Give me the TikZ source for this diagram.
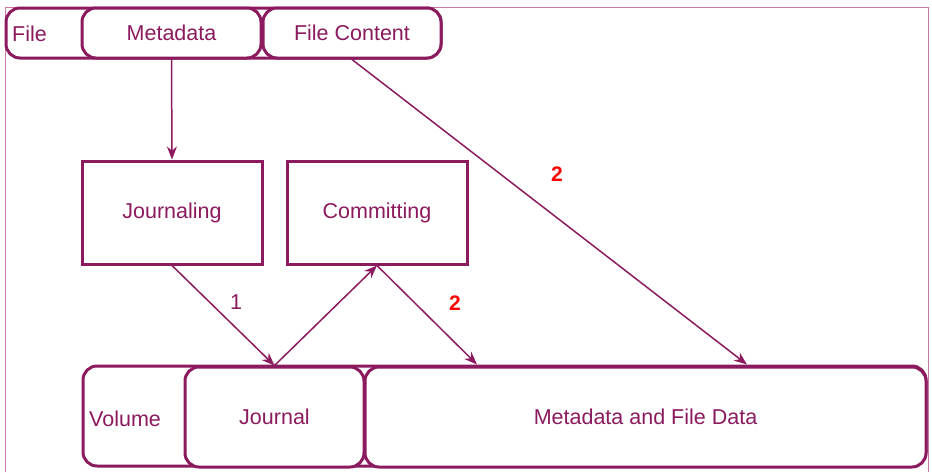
\documentclass[tikz,border=0pt]{standalone}
\usepackage{fontspec}
\setmainfont{Liberation Sans}
\usetikzlibrary{arrows.meta,positioning}
\definecolor{plum}{RGB}{139,26,94}
\definecolor{framepink}{RGB}{205,120,170}
\begin{document}
\begin{tikzpicture}[x=1pt,y=-1pt,
  every node/.style={text=plum,font=\fontsize{21.5}{25}\selectfont},
  rbox/.style={draw=plum,line width=3pt,fill=white,rounded corners=14pt,inner sep=0pt},
  sbox/.style={draw=plum,line width=3pt,fill=white,inner sep=0pt,minimum width=180pt,minimum height=103pt},
  flow/.style={draw=plum,line width=1.5pt,-{Stealth[length=13pt,width=10pt]}},
  redlbl/.style={text=red,font=\fontsize{21}{25}\selectfont\bfseries}]
\useasboundingbox (0,0) rectangle (932,472);
% the outer frame
\draw[framepink,line width=1pt] (5,472) -- (5,7) -- (928,7) -- (928,472);
% the file bar
\node[rbox,minimum width=435pt,minimum height=50pt] (file) at (223.5,33) {};
\node[anchor=west,inner sep=0pt] (filelbl) at (12,34) {File};
\node[rbox,minimum width=179pt,minimum height=50pt] (metadata) at (171.5,33) {Metadata};
\node[rbox,minimum width=178pt,minimum height=50pt] (content) at (352,33) {File Content};
% the two steps
\node[sbox] (journaling) at (172,212.5) {Journaling};
\node[sbox] (committing) at (377,212.5) {Committing};
% the volume bar
\node[rbox,minimum width=843pt,minimum height=100pt] (volume) at (504.5,416) {};
\node[anchor=west,inner sep=0pt] (volumelbl) at (89,419) {Volume};
\node[rbox,minimum width=179pt,minimum height=100pt] (journal) at (274.5,417) {Journal};
\node[rbox,minimum width=561pt,minimum height=100pt] (data) at (645.5,417) {Metadata and File Data};
% free ends on the data box
\coordinate (datain) at (477,364.5);
\coordinate (contentin) at (747,364.5);
% the arrows
\draw[flow] (metadata.south) -- (journaling.north);
\draw[flow] (journaling.south) -- (journal.north);
\draw[flow] (journal.north) -- (committing.south);
\draw[flow] (committing.south) -- (datain);
\draw[flow] (content.south) -- (contentin);
% the labels
\node (lblone) at (236,302) {1};
\node[redlbl] (lbltwo) at (455,303) {2};
\node[redlbl] (lblthree) at (557,174) {2};
\end{tikzpicture}
\end{document}
